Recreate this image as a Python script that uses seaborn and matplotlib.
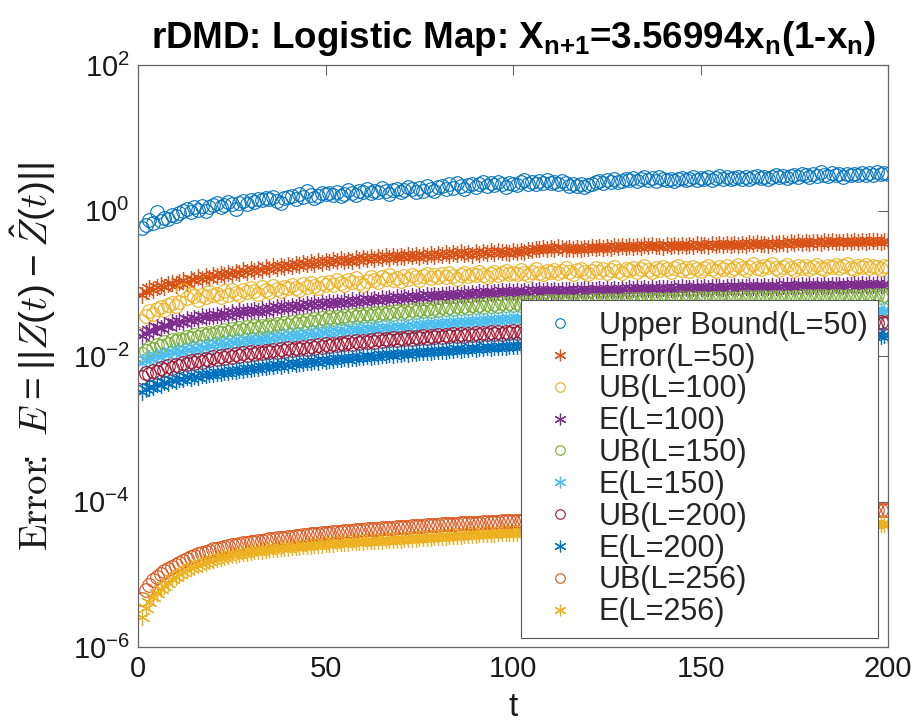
import numpy as np
import pandas as pd
import matplotlib
matplotlib.use("Agg")
import matplotlib.pyplot as plt
import seaborn as sns
from matplotlib.ticker import FixedLocator, LogFormatterSciNotation, NullLocator

# ---------------- data ----------------
t = list(range(1, 201))

ub50 = [0.58, 0.64, 0.74, 0.68, 0.95, 0.72, 0.80, 0.77, 0.86, 0.84,
        0.92, 0.98, 1.05, 0.94, 1.10, 1.02, 1.15, 0.98, 1.12, 1.20,
        1.25, 1.10, 1.18, 1.30, 1.22, 1.05, 1.28, 1.35, 1.24, 1.40,
        1.32, 1.45, 1.38, 1.50, 1.42, 1.55, 1.35, 1.28, 1.48, 1.52,
        1.60, 1.45, 1.70, 1.55, 1.85, 1.62, 1.48, 1.58, 1.75, 1.68,
        1.72, 1.65, 1.80, 1.58, 1.70, 1.90, 1.75, 1.62, 1.85, 1.78,
        1.95, 1.72, 1.88, 1.80, 2.05, 1.85, 1.70, 1.92, 2.00, 1.82,
        1.90, 2.10, 1.95, 1.78, 2.02, 1.88, 2.15, 1.98, 1.85, 2.08,
        2.20, 1.95, 2.30, 2.05, 2.40, 2.15, 2.00, 2.25, 2.35, 2.10,
        2.28, 2.45, 2.15, 2.38, 2.22, 2.50, 2.30, 2.12, 2.40, 2.32,
        2.25, 2.45, 2.60, 2.35, 2.50, 2.28, 2.55, 2.42, 2.62, 2.38,
        2.48, 2.30, 2.52, 2.40, 2.20, 2.35, 2.15, 2.28, 2.10, 2.25,
        2.32, 2.45, 2.55, 2.40, 2.62, 2.50, 2.70, 2.48, 2.58, 2.75,
        2.60, 2.80, 2.55, 2.72, 2.90, 2.65, 2.78, 2.58, 2.85, 2.70,
        2.62, 2.75, 2.55, 2.68, 2.82, 2.60, 2.72, 2.88, 2.65, 2.78,
        2.70, 2.85, 2.62, 2.78, 2.95, 2.72, 2.88, 2.68, 2.80, 2.92,
        2.75, 2.90, 2.70, 2.85, 3.00, 2.78, 2.92, 2.72, 2.88, 3.05,
        2.85, 2.98, 2.80, 2.95, 3.10, 2.88, 3.20, 3.05, 2.90, 3.15,
        3.00, 3.35, 3.10, 2.95, 3.25, 3.05, 3.15, 2.92, 3.20, 3.08,
        3.18, 3.05, 3.30, 3.12, 3.25, 3.10, 3.35, 3.20, 3.28, 3.22]

err50 = [0.070, 0.078, 0.085, 0.082, 0.090, 0.094, 0.088, 0.098, 0.102, 0.096,
         0.105, 0.110, 0.102, 0.115, 0.112, 0.120, 0.116, 0.124, 0.118, 0.130,
         0.126, 0.134, 0.128, 0.140, 0.136, 0.145, 0.138, 0.150, 0.142, 0.155,
         0.148, 0.158, 0.152, 0.165, 0.156, 0.170, 0.162, 0.175, 0.166, 0.178,
         0.172, 0.185, 0.176, 0.190, 0.182, 0.195, 0.186, 0.200, 0.190, 0.205,
         0.196, 0.210, 0.200, 0.215, 0.205, 0.212, 0.202, 0.220, 0.208, 0.222,
         0.214, 0.228, 0.218, 0.232, 0.222, 0.235, 0.225, 0.240, 0.228, 0.238,
         0.230, 0.245, 0.235, 0.242, 0.232, 0.248, 0.238, 0.250, 0.240, 0.255,
         0.245, 0.258, 0.248, 0.262, 0.250, 0.265, 0.252, 0.260, 0.248, 0.268,
         0.256, 0.270, 0.260, 0.275, 0.262, 0.278, 0.265, 0.272, 0.260, 0.275,
         0.268, 0.280, 0.270, 0.285, 0.290, 0.300, 0.292, 0.305, 0.295, 0.310,
         0.300, 0.312, 0.302, 0.298, 0.308, 0.295, 0.305, 0.298, 0.310, 0.302,
         0.312, 0.305, 0.318, 0.308, 0.320, 0.310, 0.322, 0.312, 0.325, 0.315,
         0.328, 0.318, 0.330, 0.320, 0.332, 0.322, 0.335, 0.325, 0.330, 0.320,
         0.332, 0.324, 0.336, 0.326, 0.338, 0.328, 0.340, 0.330, 0.342, 0.332,
         0.340, 0.330, 0.345, 0.335, 0.348, 0.338, 0.344, 0.334, 0.350, 0.340,
         0.346, 0.336, 0.352, 0.342, 0.355, 0.345, 0.350, 0.340, 0.356, 0.346,
         0.352, 0.362, 0.350, 0.365, 0.355, 0.368, 0.358, 0.370, 0.360, 0.365,
         0.372, 0.362, 0.375, 0.365, 0.378, 0.368, 0.374, 0.364, 0.380, 0.370,
         0.376, 0.366, 0.382, 0.372, 0.385, 0.375, 0.380, 0.370, 0.386, 0.376]

ub100 = [0.030, 0.036, 0.041, 0.038, 0.044, 0.047, 0.043, 0.050, 0.054, 0.049,
         0.056, 0.080, 0.062, 0.072, 0.066, 0.059, 0.070, 0.064, 0.075, 0.068,
         0.072, 0.065, 0.078, 0.070, 0.082, 0.074, 0.068, 0.080, 0.076, 0.086,
         0.079, 0.072, 0.088, 0.082, 0.076, 0.092, 0.084, 0.078, 0.090, 0.085,
         0.094, 0.086, 0.080, 0.098, 0.090, 0.102, 0.092, 0.085, 0.100, 0.095,
         0.104, 0.096, 0.110, 0.100, 0.094, 0.112, 0.105, 0.118, 0.102, 0.096,
         0.108, 0.120, 0.112, 0.104, 0.122, 0.114, 0.128, 0.110, 0.118, 0.106,
         0.124, 0.115, 0.130, 0.120, 0.112, 0.126, 0.135, 0.118, 0.128, 0.122,
         0.132, 0.120, 0.138, 0.126, 0.115, 0.130, 0.140, 0.124, 0.134, 0.128,
         0.142, 0.130, 0.122, 0.136, 0.145, 0.128, 0.138, 0.148, 0.132, 0.140,
         0.135, 0.150, 0.138, 0.128, 0.145, 0.155, 0.140, 0.132, 0.148, 0.142,
         0.152, 0.138, 0.146, 0.160, 0.142, 0.135, 0.150, 0.158, 0.144, 0.136,
         0.148, 0.160, 0.145, 0.155, 0.140, 0.152, 0.165, 0.148, 0.138, 0.156,
         0.150, 0.162, 0.145, 0.158, 0.170, 0.152, 0.142, 0.160, 0.150, 0.165,
         0.155, 0.145, 0.162, 0.172, 0.150, 0.160, 0.148, 0.168, 0.158, 0.146,
         0.160, 0.175, 0.155, 0.148, 0.165, 0.158, 0.170, 0.152, 0.162, 0.178,
         0.160, 0.150, 0.168, 0.182, 0.162, 0.155, 0.172, 0.165, 0.185, 0.160,
         0.152, 0.168, 0.178, 0.160, 0.150, 0.170, 0.162, 0.175, 0.158, 0.168,
         0.180, 0.162, 0.155, 0.172, 0.165, 0.178, 0.160, 0.170, 0.182, 0.164,
         0.156, 0.172, 0.165, 0.180, 0.162, 0.175, 0.168, 0.158, 0.172, 0.165]

err100 = [0.0186, 0.021, 0.023, 0.022, 0.025, 0.024, 0.027, 0.026, 0.029, 0.028,
          0.030, 0.029, 0.032, 0.031, 0.033, 0.032, 0.035, 0.034, 0.036, 0.035,
          0.037, 0.036, 0.039, 0.037, 0.040, 0.038, 0.041, 0.040, 0.042, 0.041,
          0.043, 0.041, 0.044, 0.042, 0.046, 0.044, 0.047, 0.045, 0.048, 0.046,
          0.049, 0.047, 0.050, 0.048, 0.052, 0.050, 0.053, 0.051, 0.054, 0.052,
          0.055, 0.053, 0.056, 0.054, 0.057, 0.055, 0.058, 0.056, 0.059, 0.057,
          0.060, 0.058, 0.061, 0.059, 0.062, 0.060, 0.063, 0.061, 0.064, 0.062,
          0.065, 0.063, 0.066, 0.064, 0.067, 0.065, 0.068, 0.066, 0.069, 0.067,
          0.070, 0.068, 0.071, 0.069, 0.072, 0.070, 0.073, 0.071, 0.074, 0.072,
          0.075, 0.073, 0.076, 0.074, 0.077, 0.075, 0.078, 0.076, 0.079, 0.077,
          0.078, 0.076, 0.079, 0.077, 0.080, 0.078, 0.081, 0.079, 0.080, 0.078,
          0.081, 0.079, 0.082, 0.080, 0.081, 0.079, 0.082, 0.080, 0.083, 0.081,
          0.082, 0.080, 0.083, 0.081, 0.084, 0.082, 0.083, 0.081, 0.084, 0.082,
          0.085, 0.083, 0.086, 0.084, 0.085, 0.083, 0.086, 0.084, 0.087, 0.085,
          0.086, 0.084, 0.087, 0.085, 0.088, 0.086, 0.087, 0.085, 0.088, 0.086,
          0.089, 0.087, 0.090, 0.088, 0.089, 0.087, 0.090, 0.088, 0.091, 0.089,
          0.090, 0.088, 0.091, 0.089, 0.092, 0.090, 0.091, 0.089, 0.092, 0.090,
          0.093, 0.091, 0.094, 0.092, 0.093, 0.091, 0.094, 0.092, 0.095, 0.093,
          0.094, 0.092, 0.095, 0.093, 0.096, 0.094, 0.095, 0.093, 0.096, 0.094,
          0.097, 0.095, 0.098, 0.096, 0.097, 0.095, 0.098, 0.096, 0.099, 0.097]

ub150 = [0.0105, 0.0118, 0.0130, 0.0125, 0.0142, 0.0138, 0.0155, 0.0148, 0.0165, 0.0160,
         0.0172, 0.0165, 0.0185, 0.0178, 0.0195, 0.0182, 0.0200, 0.0192, 0.0210, 0.0198,
         0.0215, 0.0205, 0.0225, 0.0212, 0.0235, 0.0220, 0.0242, 0.0228, 0.0250, 0.0236,
         0.0255, 0.0242, 0.0262, 0.0248, 0.0270, 0.0255, 0.0278, 0.0262, 0.0285, 0.0270,
         0.0292, 0.0275, 0.0300, 0.0285, 0.0310, 0.0292, 0.0318, 0.0300, 0.0330, 0.0310,
         0.0340, 0.0320, 0.0348, 0.0328, 0.0355, 0.0335, 0.0362, 0.0342, 0.0372, 0.0350,
         0.0380, 0.0358, 0.0388, 0.0365, 0.0395, 0.0372, 0.0402, 0.0380, 0.0412, 0.0388,
         0.0420, 0.0395, 0.0430, 0.0405, 0.0440, 0.0412, 0.0448, 0.0420, 0.0455, 0.0430,
         0.0465, 0.0438, 0.0472, 0.0445, 0.0480, 0.0452, 0.0488, 0.0460, 0.0495, 0.0468,
         0.0505, 0.0475, 0.0512, 0.0482, 0.0520, 0.0490, 0.0528, 0.0498, 0.0535, 0.0505,
         0.0540, 0.0510, 0.0548, 0.0515, 0.0552, 0.0520, 0.0558, 0.0525, 0.0562, 0.0530,
         0.0565, 0.0532, 0.0570, 0.0535, 0.0572, 0.0538, 0.0575, 0.0540, 0.0578, 0.0542,
         0.0580, 0.0545, 0.0585, 0.0548, 0.0588, 0.0550, 0.0590, 0.0552, 0.0595, 0.0555,
         0.0598, 0.0558, 0.0600, 0.0560, 0.0605, 0.0562, 0.0608, 0.0565, 0.0610, 0.0568,
         0.0612, 0.0570, 0.0615, 0.0572, 0.0618, 0.0575, 0.0620, 0.0578, 0.0622, 0.0580,
         0.0625, 0.0582, 0.0628, 0.0585, 0.0630, 0.0588, 0.0632, 0.0590, 0.0635, 0.0592,
         0.0638, 0.0595, 0.0640, 0.0598, 0.0642, 0.0600, 0.0645, 0.0602, 0.0648, 0.0605,
         0.0650, 0.0608, 0.0652, 0.0610, 0.0655, 0.0612, 0.0658, 0.0615, 0.0660, 0.0618,
         0.0662, 0.0620, 0.0665, 0.0622, 0.0668, 0.0625, 0.0670, 0.0628, 0.0672, 0.0630,
         0.0675, 0.0632, 0.0678, 0.0635, 0.0680, 0.0638, 0.0682, 0.0640, 0.0685, 0.0642]

err150 = [0.0081, 0.0088, 0.0094, 0.0092, 0.0100, 0.0098, 0.0106, 0.0104, 0.0112, 0.0110,
          0.0118, 0.0115, 0.0122, 0.0120, 0.0128, 0.0125, 0.0133, 0.0130, 0.0140, 0.0136,
          0.0145, 0.0140, 0.0150, 0.0146, 0.0155, 0.0150, 0.0160, 0.0155, 0.0165, 0.0160,
          0.0168, 0.0164, 0.0172, 0.0168, 0.0178, 0.0172, 0.0182, 0.0177, 0.0187, 0.0182,
          0.0192, 0.0186, 0.0196, 0.0190, 0.0202, 0.0196, 0.0206, 0.0200, 0.0212, 0.0205,
          0.0218, 0.0210, 0.0222, 0.0215, 0.0228, 0.0220, 0.0232, 0.0225, 0.0236, 0.0230,
          0.0240, 0.0232, 0.0245, 0.0238, 0.0250, 0.0242, 0.0254, 0.0246, 0.0258, 0.0250,
          0.0262, 0.0254, 0.0266, 0.0258, 0.0272, 0.0264, 0.0276, 0.0268, 0.0282, 0.0274,
          0.0286, 0.0278, 0.0290, 0.0282, 0.0295, 0.0287, 0.0300, 0.0292, 0.0305, 0.0296,
          0.0310, 0.0300, 0.0315, 0.0306, 0.0320, 0.0310, 0.0326, 0.0316, 0.0332, 0.0322,
          0.0335, 0.0326, 0.0338, 0.0330, 0.0340, 0.0332, 0.0342, 0.0334, 0.0345, 0.0336,
          0.0346, 0.0338, 0.0348, 0.0340, 0.0350, 0.0342, 0.0352, 0.0344, 0.0354, 0.0346,
          0.0356, 0.0348, 0.0358, 0.0350, 0.0360, 0.0352, 0.0362, 0.0354, 0.0364, 0.0356,
          0.0366, 0.0358, 0.0368, 0.0360, 0.0370, 0.0362, 0.0372, 0.0364, 0.0374, 0.0366,
          0.0376, 0.0368, 0.0378, 0.0370, 0.0380, 0.0372, 0.0382, 0.0374, 0.0384, 0.0376,
          0.0386, 0.0378, 0.0388, 0.0380, 0.0390, 0.0382, 0.0392, 0.0384, 0.0394, 0.0386,
          0.0396, 0.0388, 0.0398, 0.0390, 0.0400, 0.0392, 0.0402, 0.0394, 0.0404, 0.0396,
          0.0406, 0.0398, 0.0408, 0.0400, 0.0410, 0.0402, 0.0412, 0.0404, 0.0414, 0.0406,
          0.0415, 0.0407, 0.0416, 0.0408, 0.0417, 0.0409, 0.0418, 0.0410, 0.0419, 0.0411,
          0.0420, 0.0412, 0.0421, 0.0413, 0.0422, 0.0414, 0.0423, 0.0415, 0.0424, 0.0416]

ub200 = [0.0052, 0.0058, 0.0056, 0.0063, 0.0060, 0.0068, 0.0065, 0.0072, 0.0069, 0.0076,
         0.0073, 0.0080, 0.0077, 0.0085, 0.0081, 0.0088, 0.0084, 0.0092, 0.0088, 0.0096,
         0.0092, 0.0100, 0.0095, 0.0103, 0.0098, 0.0106, 0.0100, 0.0109, 0.0103, 0.0112,
         0.0106, 0.0115, 0.0109, 0.0118, 0.0112, 0.0121, 0.0114, 0.0124, 0.0117, 0.0127,
         0.0120, 0.0130, 0.0123, 0.0134, 0.0126, 0.0137, 0.0129, 0.0140, 0.0132, 0.0144,
         0.0136, 0.0148, 0.0140, 0.0152, 0.0144, 0.0156, 0.0148, 0.0160, 0.0152, 0.0163,
         0.0155, 0.0166, 0.0158, 0.0170, 0.0161, 0.0173, 0.0164, 0.0176, 0.0167, 0.0179,
         0.0170, 0.0182, 0.0173, 0.0185, 0.0176, 0.0188, 0.0178, 0.0190, 0.0181, 0.0193,
         0.0184, 0.0196, 0.0186, 0.0198, 0.0189, 0.0201, 0.0191, 0.0203, 0.0193, 0.0206,
         0.0196, 0.0208, 0.0198, 0.0211, 0.0201, 0.0213, 0.0203, 0.0216, 0.0205, 0.0218,
         0.0208, 0.0220, 0.0210, 0.0222, 0.0212, 0.0224, 0.0214, 0.0226, 0.0216, 0.0228,
         0.0218, 0.0230, 0.0220, 0.0232, 0.0222, 0.0234, 0.0224, 0.0236, 0.0226, 0.0238,
         0.0228, 0.0240, 0.0230, 0.0242, 0.0232, 0.0244, 0.0234, 0.0246, 0.0236, 0.0248,
         0.0238, 0.0250, 0.0240, 0.0252, 0.0242, 0.0254, 0.0244, 0.0256, 0.0246, 0.0258,
         0.0248, 0.0260, 0.0250, 0.0262, 0.0252, 0.0264, 0.0254, 0.0266, 0.0256, 0.0268,
         0.0258, 0.0270, 0.0260, 0.0272, 0.0262, 0.0274, 0.0264, 0.0276, 0.0266, 0.0278,
         0.0268, 0.0279, 0.0269, 0.0280, 0.0270, 0.0281, 0.0271, 0.0282, 0.0272, 0.0283,
         0.0273, 0.0284, 0.0274, 0.0285, 0.0275, 0.0286, 0.0276, 0.0287, 0.0277, 0.0288,
         0.0278, 0.0289, 0.0279, 0.0290, 0.0280, 0.0291, 0.0281, 0.0292, 0.0282, 0.0293,
         0.0283, 0.0294, 0.0284, 0.0295, 0.0285, 0.0296, 0.0286, 0.0297, 0.0287, 0.0298]

err200 = [0.0032, 0.0035, 0.0038, 0.0037, 0.0041, 0.0040, 0.0044, 0.0043, 0.0047, 0.0046,
          0.0049, 0.0048, 0.0051, 0.0050, 0.0053, 0.0052, 0.0055, 0.0054, 0.0057, 0.0056,
          0.0059, 0.0058, 0.0061, 0.0060, 0.0063, 0.0062, 0.0065, 0.0064, 0.0067, 0.0066,
          0.0069, 0.0068, 0.0071, 0.0070, 0.0073, 0.0072, 0.0075, 0.0074, 0.0077, 0.0076,
          0.0079, 0.0078, 0.0081, 0.0080, 0.0083, 0.0082, 0.0085, 0.0084, 0.0087, 0.0086,
          0.0089, 0.0088, 0.0091, 0.0090, 0.0093, 0.0092, 0.0095, 0.0094, 0.0097, 0.0096,
          0.0099, 0.0098, 0.0101, 0.0100, 0.0103, 0.0102, 0.0105, 0.0104, 0.0107, 0.0106,
          0.0109, 0.0108, 0.0111, 0.0110, 0.0113, 0.0112, 0.0115, 0.0114, 0.0117, 0.0116,
          0.0119, 0.0118, 0.0121, 0.0120, 0.0123, 0.0122, 0.0125, 0.0124, 0.0127, 0.0126,
          0.0129, 0.0128, 0.0131, 0.0130, 0.0133, 0.0132, 0.0135, 0.0134, 0.0137, 0.0136,
          0.0139, 0.0138, 0.0141, 0.0140, 0.0143, 0.0142, 0.0145, 0.0144, 0.0146, 0.0145,
          0.0147, 0.0146, 0.0149, 0.0148, 0.0150, 0.0149, 0.0152, 0.0151, 0.0153, 0.0152,
          0.0155, 0.0154, 0.0156, 0.0155, 0.0158, 0.0157, 0.0159, 0.0158, 0.0161, 0.0160,
          0.0162, 0.0161, 0.0163, 0.0162, 0.0165, 0.0164, 0.0166, 0.0165, 0.0167, 0.0166,
          0.0168, 0.0167, 0.0169, 0.0168, 0.0170, 0.0169, 0.0171, 0.0170, 0.0172, 0.0171,
          0.0173, 0.0172, 0.0174, 0.0173, 0.0175, 0.0174, 0.0176, 0.0175, 0.0177, 0.0176,
          0.0177, 0.0176, 0.0178, 0.0177, 0.0179, 0.0178, 0.0180, 0.0179, 0.0181, 0.0180,
          0.0181, 0.0180, 0.0182, 0.0181, 0.0183, 0.0182, 0.0184, 0.0183, 0.0185, 0.0184,
          0.0185, 0.0184, 0.0186, 0.0185, 0.0187, 0.0186, 0.0188, 0.0187, 0.0189, 0.0188,
          0.0189, 0.0188, 0.0190, 0.0189, 0.0191, 0.0190, 0.0192, 0.0191, 0.0193, 0.0192]

# L=256 series, in units of 1e-6
ub256_micro = [4.5, 6.0, 7.2, 8.3, 9.3, 10.2, 11.0, 11.8, 12.7, 13.6,
               14.5, 15.4, 16.3, 17.1, 17.9, 18.7, 19.5, 20.3, 21.1, 21.9,
               22.5, 23.1, 23.7, 24.3, 24.9, 25.5, 26.0, 26.6, 27.1, 27.6,
               28.1, 28.6, 29.1, 29.6, 30.1, 30.6, 31.1, 31.6, 32.0, 32.5,
               33.0, 33.4, 33.9, 34.3, 34.8, 35.2, 35.6, 36.0, 36.5, 36.9,
               37.3, 37.7, 38.1, 38.5, 38.9, 39.3, 39.7, 40.1, 40.5, 40.9,
               41.3, 41.7, 42.1, 42.4, 42.8, 43.2, 43.5, 43.9, 44.2, 44.6,
               45.0, 45.3, 45.7, 46.0, 46.3, 46.7, 47.0, 47.3, 47.7, 48.0,
               48.3, 48.6, 49.0, 49.3, 49.6, 49.9, 50.2, 50.5, 50.8, 51.1,
               51.4, 51.7, 52.0, 52.3, 52.6, 52.9, 53.2, 53.5, 53.8, 54.1,
               54.4, 54.6, 54.9, 55.2, 55.5, 55.7, 56.0, 56.3, 56.5, 56.8,
               57.1, 57.3, 57.6, 57.8, 58.1, 58.4, 58.6, 58.9, 59.1, 59.4,
               59.6, 59.9, 60.1, 60.4, 60.6, 60.9, 61.1, 61.4, 61.6, 61.9,
               62.1, 62.4, 62.6, 62.9, 63.1, 63.3, 63.6, 63.8, 64.1, 64.3,
               64.5, 64.8, 65.0, 65.2, 65.5, 65.7, 65.9, 66.2, 66.4, 66.6,
               66.9, 67.1, 67.3, 67.5, 67.8, 68.0, 68.2, 68.4, 68.7, 68.9,
               69.1, 69.3, 69.5, 69.8, 70.0, 70.2, 70.4, 70.6, 70.8, 71.1,
               71.3, 71.5, 71.7, 71.9, 72.1, 72.3, 72.6, 72.8, 73.0, 73.2,
               73.4, 73.6, 73.8, 74.0, 74.2, 74.4, 74.6, 74.8, 75.0, 75.2,
               75.4, 75.6, 75.8, 76.0, 76.2, 76.4, 76.6, 76.8, 77.0, 77.2]

err256_micro = [2.6, 3.4, 4.2, 4.9, 5.6, 6.3, 7.0, 7.7, 8.5, 9.3,
                10.0, 10.7, 11.4, 12.0, 12.7, 13.3, 13.9, 14.5, 15.1, 15.7,
                16.2, 16.7, 17.2, 17.7, 18.2, 18.6, 19.1, 19.5, 19.9, 20.3,
                20.6, 20.9, 21.2, 21.5, 21.8, 22.1, 22.4, 22.7, 23.0, 23.3,
                23.5, 23.8, 24.0, 24.3, 24.5, 24.8, 25.0, 25.3, 25.5, 25.8,
                26.0, 26.2, 26.5, 26.7, 26.9, 27.1, 27.4, 27.6, 27.8, 28.0,
                28.2, 28.4, 28.6, 28.8, 29.0, 29.2, 29.4, 29.6, 29.8, 30.0,
                30.3, 30.5, 30.8, 31.0, 31.3, 31.5, 31.8, 32.0, 32.3, 32.5,
                32.8, 33.0, 33.3, 33.5, 33.8, 34.0, 34.2, 34.5, 34.7, 35.0,
                35.2, 35.4, 35.7, 35.9, 36.1, 36.4, 36.6, 36.8, 37.0, 37.3,
                37.4, 37.6, 37.7, 37.9, 38.0, 38.2, 38.3, 38.5, 38.6, 38.8,
                38.9, 39.1, 39.2, 39.4, 39.5, 39.7, 39.8, 40.0, 40.1, 40.2,
                40.4, 40.5, 40.7, 40.8, 40.9, 41.1, 41.2, 41.4, 41.5, 41.6,
                41.8, 41.9, 42.0, 42.2, 42.3, 42.4, 42.6, 42.7, 42.8, 43.0,
                43.1, 43.2, 43.3, 43.5, 43.6, 43.7, 43.8, 44.0, 44.1, 44.2,
                44.3, 44.4, 44.6, 44.7, 44.8, 44.9, 45.0, 45.2, 45.3, 45.4,
                45.5, 45.6, 45.7, 45.8, 46.0, 46.1, 46.2, 46.3, 46.4, 46.5,
                46.6, 46.7, 46.8, 46.9, 47.0, 47.1, 47.2, 47.3, 47.4, 47.5,
                47.6, 47.7, 47.8, 47.9, 48.0, 48.1, 48.2, 48.3, 48.4, 48.5,
                48.6, 48.7, 48.8, 48.9, 49.0, 49.1, 49.2, 49.3, 49.4, 49.5]

labels = ["Upper Bound(L=50)", "Error(L=50)", "UB(L=100)", "E(L=100)",
          "UB(L=150)", "E(L=150)", "UB(L=200)", "E(L=200)",
          "UB(L=256)", "E(L=256)"]
xticks = [0, 50, 100, 150, 200]
yticks = [1e-6, 1e-4, 1e-2, 1e0, 1e2]

# ---------------- style ----------------
sns.set_style("white")
plt.rcParams["font.family"] = ["Liberation Sans", "DejaVu Sans"]
plt.rcParams["mathtext.fontset"] = "custom"
plt.rcParams["mathtext.rm"] = "Liberation Sans"
plt.rcParams["mathtext.it"] = "Liberation Sans:italic"
plt.rcParams["mathtext.bf"] = "Liberation Sans:bold"
plt.rcParams["mathtext.default"] = "regular"

mat_colors = [(0.0, 0.447, 0.741), (0.85, 0.325, 0.098), (0.929, 0.694, 0.125),
              (0.494, 0.184, 0.556), (0.466, 0.674, 0.188), (0.301, 0.745, 0.933),
              (0.635, 0.078, 0.184)]
circle = "o"
aster = (6, 2, 0)

series = [ub50, err50, ub100, err100, ub150, err150, ub200, err200,
          [v * 1e-6 for v in ub256_micro], [v * 1e-6 for v in err256_micro]]

fig = plt.figure(figsize=(9.21, 7.25), dpi=100)
ax = fig.add_axes([138 / 921, 1 - 647 / 725, 750 / 921, 582 / 725])

for i, (vals, lab) in enumerate(zip(series, labels)):
    c = mat_colors[i % 7]
    df = pd.DataFrame({"t": t, "E": vals})
    if i % 2 == 0:
        sns.lineplot(data=df, x="t", y="E", ax=ax, errorbar=None, sort=False,
                     color=c, linestyle="", marker=circle, markersize=9.8,
                     markerfacecolor="none", markeredgecolor=c,
                     markeredgewidth=0.8, label=lab)
    else:
        sns.lineplot(data=df, x="t", y="E", ax=ax, errorbar=None, sort=False,
                     color=c, linestyle="", marker=aster, markersize=12,
                     markeredgecolor=c, markeredgewidth=0.9, label=lab)

ax.set_yscale("log")
ax.set_xlim(0, 200)
ax.set_ylim(1e-6, 1e2)
ax.xaxis.set_major_locator(FixedLocator(xticks))
ax.yaxis.set_major_locator(FixedLocator(yticks))
ax.yaxis.set_minor_locator(NullLocator())
ax.yaxis.set_major_formatter(LogFormatterSciNotation())
ax.tick_params(axis="both", which="major", direction="in", length=7, width=0.8,
               color="#666666", labelsize=21, labelcolor="#1a1a1a",
               top=True, right=True, pad=6)
for s in ax.spines.values():
    s.set_visible(True)
    s.set_color("#666666")
    s.set_linewidth(0.9)

ax.set_xlabel("t", fontsize=24, color="#1a1a1a", labelpad=6)
ax.set_ylabel(r"$\mathrm{Error}\!\!:\ \mathit{E} = ||\mathit{Z}(\mathit{t}) - \hat{\mathit{Z}}(\mathit{t})||$",
              fontsize=28, math_fontfamily="cm", color="#1a1a1a", labelpad=10)
ax.set_title(r"rDMD: Logistic Map: X$_{\mathbf{n{+}1}}$=3.56994x$_{\mathbf{n}}$(1-x$_{\mathbf{n}}$)",
             fontsize=26.5, fontweight="bold", color="#000000", pad=12)

leg = ax.legend(loc="lower right", bbox_to_anchor=(0.9867, 0.0155),
                bbox_transform=ax.transAxes, borderaxespad=0, fontsize=22,
                frameon=True, fancybox=False, edgecolor="#555555",
                framealpha=1.0, labelspacing=0.06, handlelength=1.85,
                handletextpad=0.35, borderpad=0.35, markerscale=0.7)
leg.get_frame().set_linewidth(0.8)

fig.savefig("out.png", dpi=100)
